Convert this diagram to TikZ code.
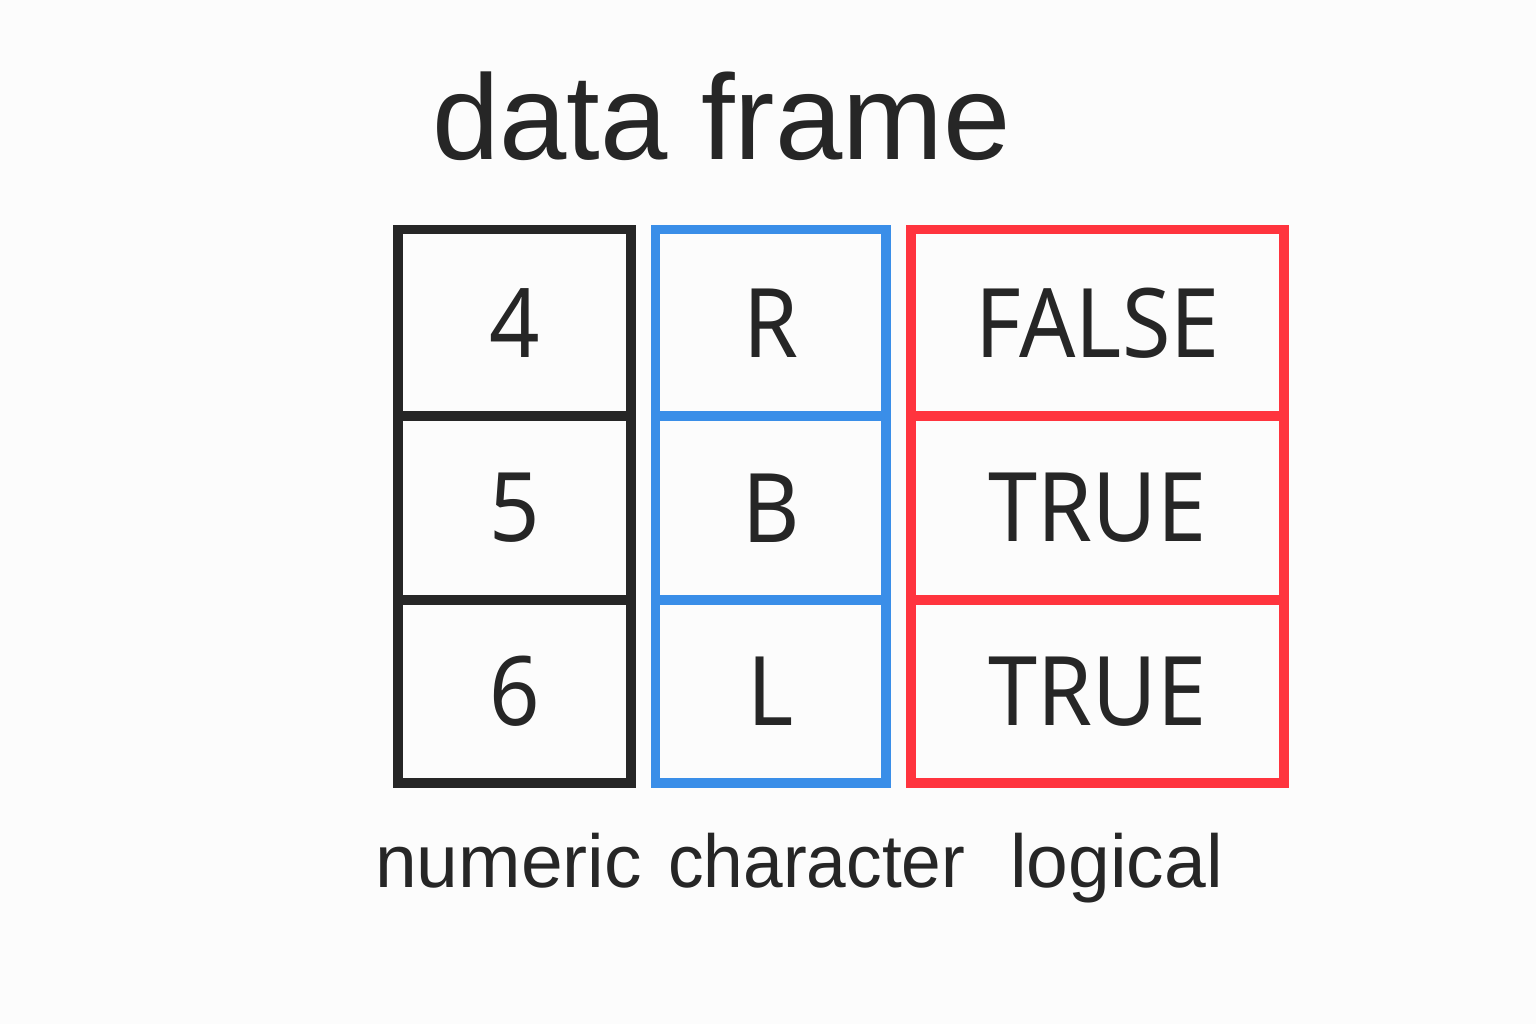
\documentclass[tikz,border=0pt]{standalone}
\usepackage{fontspec}
\setmainfont{Liberation Sans}
\newfontfamily\cellfont{Noto Sans}
\definecolor{bgc}{RGB}{252,252,252}
\definecolor{ink}{RGB}{38,38,38}
\definecolor{colblue}{RGB}{58,142,232}
\definecolor{colred}{RGB}{255,52,62}
\newcommand{\celltext}[1]{\scalebox{0.92}[1]{#1}}
\begin{document}
\begin{tikzpicture}[x=1pt,y=-1pt,
  cellbox/.style={rectangle, draw, line width=9.5pt, inner sep=0pt, outer sep=0pt,
    text=ink, font=\cellfont\fontsize{96}{110}\selectfont},
  numcell/.style={cellbox, draw=ink, minimum width=233pt},
  chrcell/.style={cellbox, draw=colblue, minimum width=230.5pt},
  logcell/.style={cellbox, draw=colred, minimum width=373pt},
  rowa/.style={minimum height=186.5pt},
  rowb/.style={minimum height=184pt},
  rowc/.style={minimum height=183pt},
  lbl/.style={anchor=base west, inner sep=0pt, text=ink, font=\fontsize{75}{85}\selectfont}]
\fill[bgc] (0,0) rectangle (1536,1024);
\useasboundingbox (0,0) rectangle (1536,1024);
\node[anchor=base west, inner sep=0pt, text=ink, font=\fontsize{121}{130}\selectfont] (title) at (432,160) {data frame};
% numeric column
\node[numcell, rowa] (n1) at (514.5,322.75) {\celltext{4}};
\node[numcell, rowb] (n2) at (514.5,508) {\celltext{5}};
\node[numcell, rowc] (n3) at (514.5,691.5) {\celltext{6}};
% character column
\node[chrcell, rowa] (c1) at (770.75,322.75) {\celltext{R}};
\node[chrcell, rowb] (c2) at (770.75,508) {\celltext{B}};
\node[chrcell, rowc] (c3) at (770.75,691.5) {\celltext{L}};
% logical column
\node[logcell, rowa] (l1) at (1097.5,322.75) {\celltext{FALSE}};
\node[logcell, rowb] (l2) at (1097.5,508) {\celltext{TRUE}};
\node[logcell, rowc] (l3) at (1097.5,691.5) {\celltext{TRUE}};
% labels
\node[lbl] (lnum) at (375,887) {numeric};
\node[lbl] (lchr) at (668,887) {\scalebox{0.95}[1]{character}};
\node[lbl] (llog) at (1010,887) {logical};
\end{tikzpicture}
\end{document}
